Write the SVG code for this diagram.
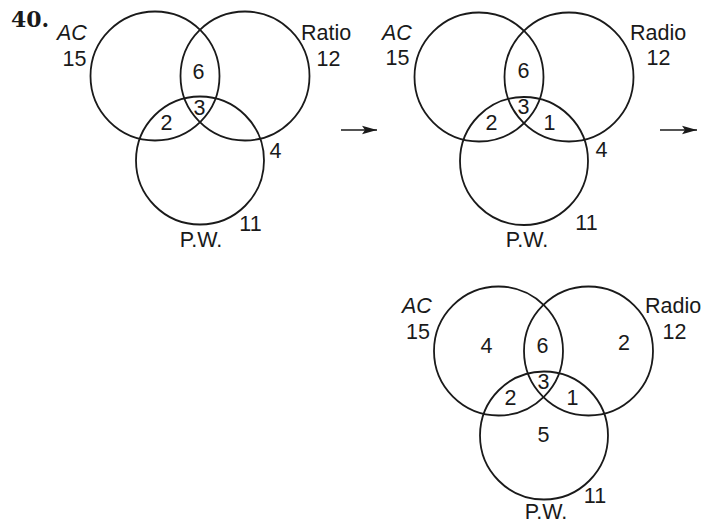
<svg xmlns="http://www.w3.org/2000/svg" width="717" height="522" viewBox="0 0 717 522">
  <style>
    .ring { fill: none; stroke: #1a1a1a; stroke-width: 1.8; }
    .t { font-family: "Liberation Sans", Arial, sans-serif; font-size: 21.5px; fill: #1a1a1a; }
    .m { text-anchor: middle; }
    .it { font-style: italic; }
    .num { font-family: "DejaVu Serif", "Liberation Serif", serif; font-weight: bold; font-size: 22px; fill: #1a1a1a; }
    .arrow { stroke: #1a1a1a; stroke-width: 1.6; fill: none; }
  </style>
  <defs>
    <marker id="head" markerUnits="userSpaceOnUse" markerWidth="16" markerHeight="10" viewBox="0 -5 16 10" refX="15" refY="0" orient="auto">
      <path d="M0,-4.2 L15,0 L0,4.2 L3,0 Z" fill="#1a1a1a"/>
    </marker>
  </defs>

  <rect width="717" height="522" fill="#ffffff"/>

  <text class="num" x="11" y="26.5">40.</text>

  <!-- Step 1 -->
  <g id="venn1">
    <circle class="ring" cx="155" cy="76" r="64.5"/>
    <circle class="ring" cx="245" cy="76" r="64.5"/>
    <circle class="ring" cx="200" cy="160.5" r="64"/>
    <text class="t it" x="57" y="40">AC</text>
    <text class="t m" x="74.5" y="65.5">15</text>
    <text class="t" x="301" y="40">Ratio</text>
    <text class="t m" x="328.5" y="65.5">12</text>
    <text class="t m" x="198.5" y="78.5">6</text>
    <text class="t m" x="199.5" y="114.5">3</text>
    <text class="t m" x="166.5" y="130">2</text>
    <text class="t m" x="275.5" y="157.5">4</text>
    <text class="t m" x="250.5" y="230.5">11</text>
    <text class="t m" x="201" y="246.5">P.W.</text>
  </g>

  <!-- Step 2 -->
  <g id="venn2">
    <circle class="ring" cx="479" cy="77" r="64.5"/>
    <circle class="ring" cx="569" cy="77" r="64.5"/>
    <circle class="ring" cx="524" cy="161" r="64"/>
    <text class="t it" x="382" y="39.5">AC</text>
    <text class="t m" x="397.5" y="65">15</text>
    <text class="t" x="630" y="40">Radio</text>
    <text class="t m" x="658.5" y="65">12</text>
    <text class="t m" x="523.5" y="78">6</text>
    <text class="t m" x="523.5" y="114">3</text>
    <text class="t m" x="491.5" y="130">2</text>
    <text class="t m" x="549.5" y="130">1</text>
    <text class="t m" x="601.5" y="157">4</text>
    <text class="t m" x="586.5" y="230">11</text>
    <text class="t m" x="527" y="246.5">P.W.</text>
  </g>

  <!-- Step 3 -->
  <g id="venn3">
    <circle class="ring" cx="498.5" cy="351" r="64.5"/>
    <circle class="ring" cx="588.5" cy="351" r="64.5"/>
    <circle class="ring" cx="544" cy="435.5" r="64"/>
    <text class="t it" x="402" y="312.5">AC</text>
    <text class="t m" x="418" y="338.5">15</text>
    <text class="t" x="645" y="313">Radio</text>
    <text class="t m" x="674.5" y="338.5">12</text>
    <text class="t m" x="486.5" y="353">4</text>
    <text class="t m" x="542.5" y="353">6</text>
    <text class="t m" x="624" y="349.5">2</text>
    <text class="t m" x="543.5" y="388.5">3</text>
    <text class="t m" x="510.5" y="404.5">2</text>
    <text class="t m" x="572.5" y="404.5">1</text>
    <text class="t m" x="543.5" y="441.5">5</text>
    <text class="t m" x="595" y="502.5">11</text>
    <text class="t m" x="546" y="518.5">P.W.</text>
  </g>

  <g id="connectors">
    <path class="arrow" d="M341,130 H377" marker-end="url(#head)"/>
    <path class="arrow" d="M660,130 H697" marker-end="url(#head)"/>
  </g>
</svg>
